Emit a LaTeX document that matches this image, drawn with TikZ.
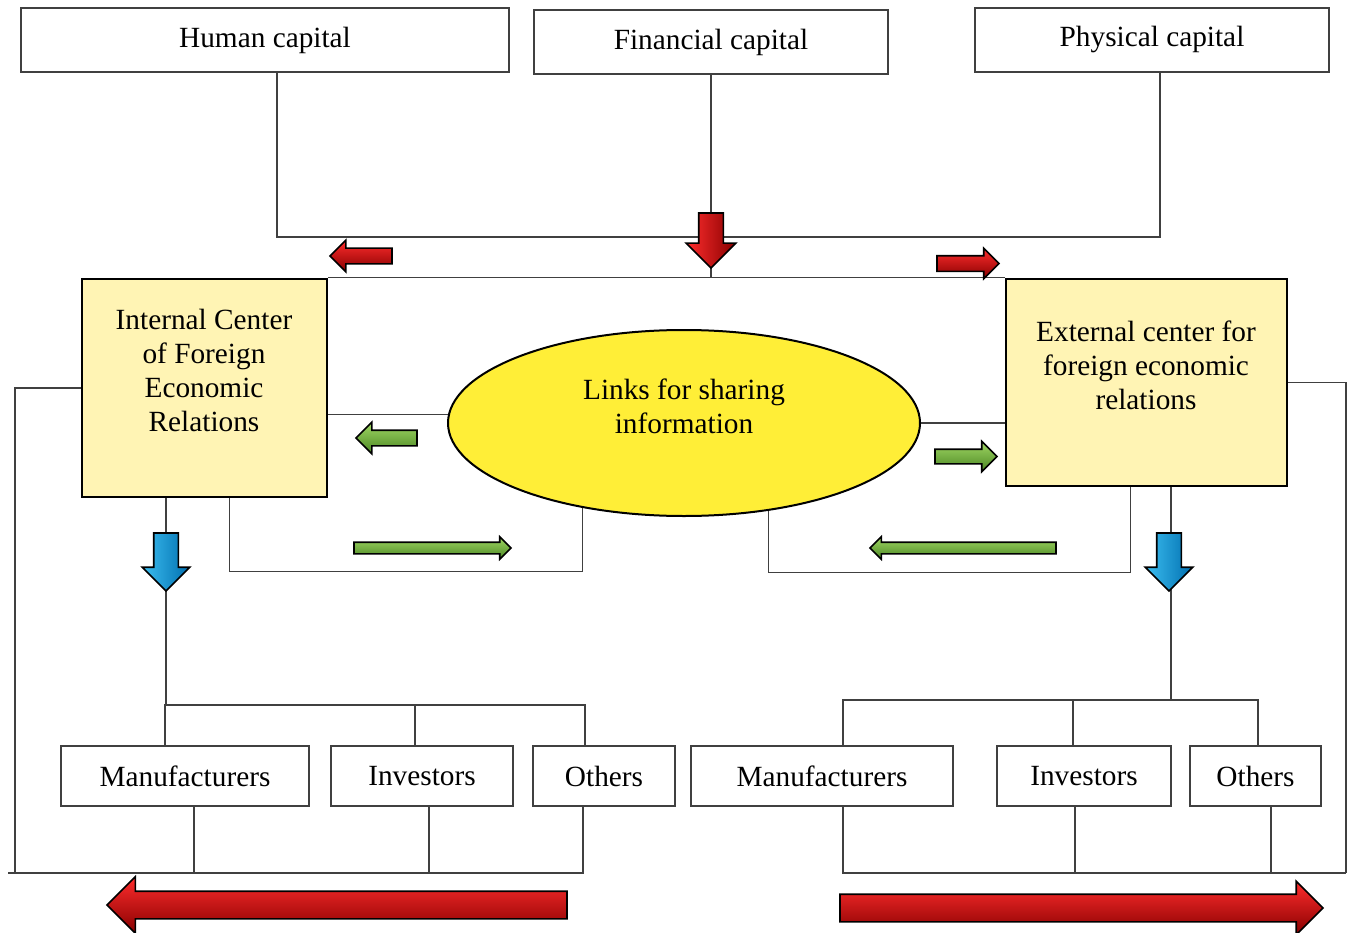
\documentclass[tikz,border=0pt]{standalone}
\usepackage{fontspec}
\setmainfont{Liberation Serif}
\usetikzlibrary{shapes.geometric, shapes.arrows}

\definecolor{ctryellow}{RGB}{255,244,180}
\definecolor{linkyellow}{RGB}{255,238,55}
\definecolor{redhi}{RGB}{255,45,45}
\definecolor{redlo}{RGB}{135,0,0}
\definecolor{greenhi}{RGB}{160,215,100}
\definecolor{greenlo}{RGB}{75,135,35}
\definecolor{bluehi}{RGB}{60,190,240}
\definecolor{bluelo}{RGB}{0,110,175}

\begin{document}
\begin{tikzpicture}[
      x=1pt, y=-1pt,
      line width=1.3pt, draw=black!75,
      every node/.style={font=\fontsize{29.3}{34}\selectfont},
      capbox/.style={draw=black!75, line width=1.2pt, minimum height=64pt, inner sep=0pt},
      membox/.style={draw=black!75, line width=1.2pt, minimum height=60pt, inner sep=0pt},
      ctrbox/.style={draw=black, line width=2.5pt, inner sep=0pt, fill=ctryellow},
      blockarrow/.style={single arrow, draw=black, line width=1.6pt, outer sep=0pt, anchor=tip},
      redarrow/.style={blockarrow, top color=redhi, bottom color=redlo},
      greenarrow/.style={blockarrow, top color=greenhi, bottom color=greenlo},
      bluearrow/.style={blockarrow, left color=bluehi, right color=bluelo, shape border rotate=270}
    ]
    \useasboundingbox (0,0) rectangle (1348,933);

    % sources of capital
    \node[capbox, minimum width=488pt] (human) at (265,40) {Human capital};
    \node[capbox, minimum width=354pt] (fin)   at (711,42) {Financial capital};
    \node[capbox, minimum width=354pt] (phys)  at (1152,40) {Physical capital};

    % the two centers and the link between them
    \node[ctrbox, minimum width=245pt, minimum height=218pt] (intbox) at (204.5,388) {};
    \node[align=center] (inttext) at (204,370) {Internal Center\\of Foreign\\Economic\\Relations};
    \node[ctrbox, minimum width=281pt, minimum height=207pt] (extbox) at (1146.5,382.5) {};
    \node[align=center] (exttext) at (1146,365) {External center for\\foreign economic\\relations};
    \node[ellipse, draw=black, line width=2pt, minimum width=472pt, minimum height=186pt,
          fill=linkyellow] (links) at (684,423) {};
    \node[align=center] (linktext) at (684,406) {Links for sharing\\information};

    % participants
    \node[membox, minimum width=248pt] (lman) at (185,776) {Manufacturers};
    \node[membox, minimum width=182pt] (linv) at (422,776) {Investors};
    \node[membox, minimum width=142pt] (loth) at (604,776) {Others};
    \node[membox, minimum width=262pt] (rman) at (822,776) {Manufacturers};
    \node[membox, minimum width=174pt] (rinv) at (1084,776) {Investors};
    \node[membox, minimum width=131pt] (roth) at (1255.5,776) {Others};

    \coordinate (hub) at (711,237);
    \coordinate (lsplit) at (166,705);
    \coordinate (rsplit) at (1171,700);
    \coordinate (lbase) at (15,873);
    \coordinate (rbase) at (1346,873);

    % capital feeds
    \draw ([xshift=12pt]human.south) |- (hub);
    \draw ([xshift=8pt]phys.south) |- (hub);
    \draw (fin.south) -- (hub |- intbox.north);
    \draw (intbox.north east) -- (extbox.north west);

    % information links
    \draw (links.178) -- (links.178 -| intbox.east);
    \draw (links.east) -- (links.east -| extbox.west);
    \draw ([xshift=25pt]intbox.south) -- ++(0,73) -| (links.220);
    \draw (links.-46) -- ++(0,62) -| ([xshift=-16pt]extbox.south);

    % down to the participants
    \draw (intbox.south -| lsplit) -- (lsplit);
    \foreach \n/\s in {lman/-20, linv/-7, loth/-19}
        \draw (lsplit) -| ([xshift=\s pt]\n.north);
    \draw (extbox.south -| rsplit) -- (rsplit);
    \foreach \n/\s in {rman/21, rinv/-11, roth/2.5}
        \draw (rsplit) -| ([xshift=\s pt]\n.north);

    % back round to the outer loops
    \draw (intbox.west) -| (lbase) -- ++(-7,0);
    \foreach \n/\s in {lman/9, linv/7, loth/-21}
        \draw ([xshift=\s pt]\n.south) |- (lbase);
    \draw (extbox.east) -| (rbase);
    \foreach \n/\s in {rman/21, rinv/-9, roth/15.5}
        \draw ([xshift=\s pt]\n.south) |- (rbase);

    % block arrows
    \node[redarrow, shape border rotate=270, left color=redhi, right color=redlo,
          minimum height=55pt, inner sep=11.5pt, single arrow head extend=12.5pt] (capin) at (711,268) {};
    \node[redarrow, shape border rotate=180, minimum height=62pt,
          inner sep=7pt, single arrow head extend=8pt] (capleft) at (330,256) {};
    \node[redarrow, minimum height=62pt,
          inner sep=7pt, single arrow head extend=7.5pt] (capright) at (999,263.5) {};
    \node[greenarrow, shape border rotate=180, minimum height=61pt,
          inner sep=7pt, single arrow head extend=8pt] (infoint) at (356,438) {};
    \node[greenarrow, minimum height=62pt,
          inner sep=6.5pt, single arrow head extend=8pt] (infoext) at (997,456.5) {};
    \node[greenarrow, minimum height=157pt,
          inner sep=5pt, single arrow head extend=5.5pt] (intback) at (511,548) {};
    \node[greenarrow, shape border rotate=180, minimum height=186pt,
          inner sep=5pt, single arrow head extend=5.5pt] (extback) at (870,548) {};
    \node[bluearrow, minimum height=58pt,
          inner sep=11.5pt, single arrow head extend=11.5pt] (intdown) at (166,591) {};
    \node[bluearrow, minimum height=58pt,
          inner sep=11.5pt, single arrow head extend=11.5pt] (extdown) at (1169,591) {};
    \node[redarrow, shape border rotate=180, minimum height=460pt,
          inner sep=13pt, single arrow head extend=14.5pt] (intmarket) at (107,905) {};
    \node[redarrow, minimum height=483pt,
          inner sep=13pt, single arrow head extend=13pt] (extmarket) at (1323,908) {};
\end{tikzpicture}
\end{document}
